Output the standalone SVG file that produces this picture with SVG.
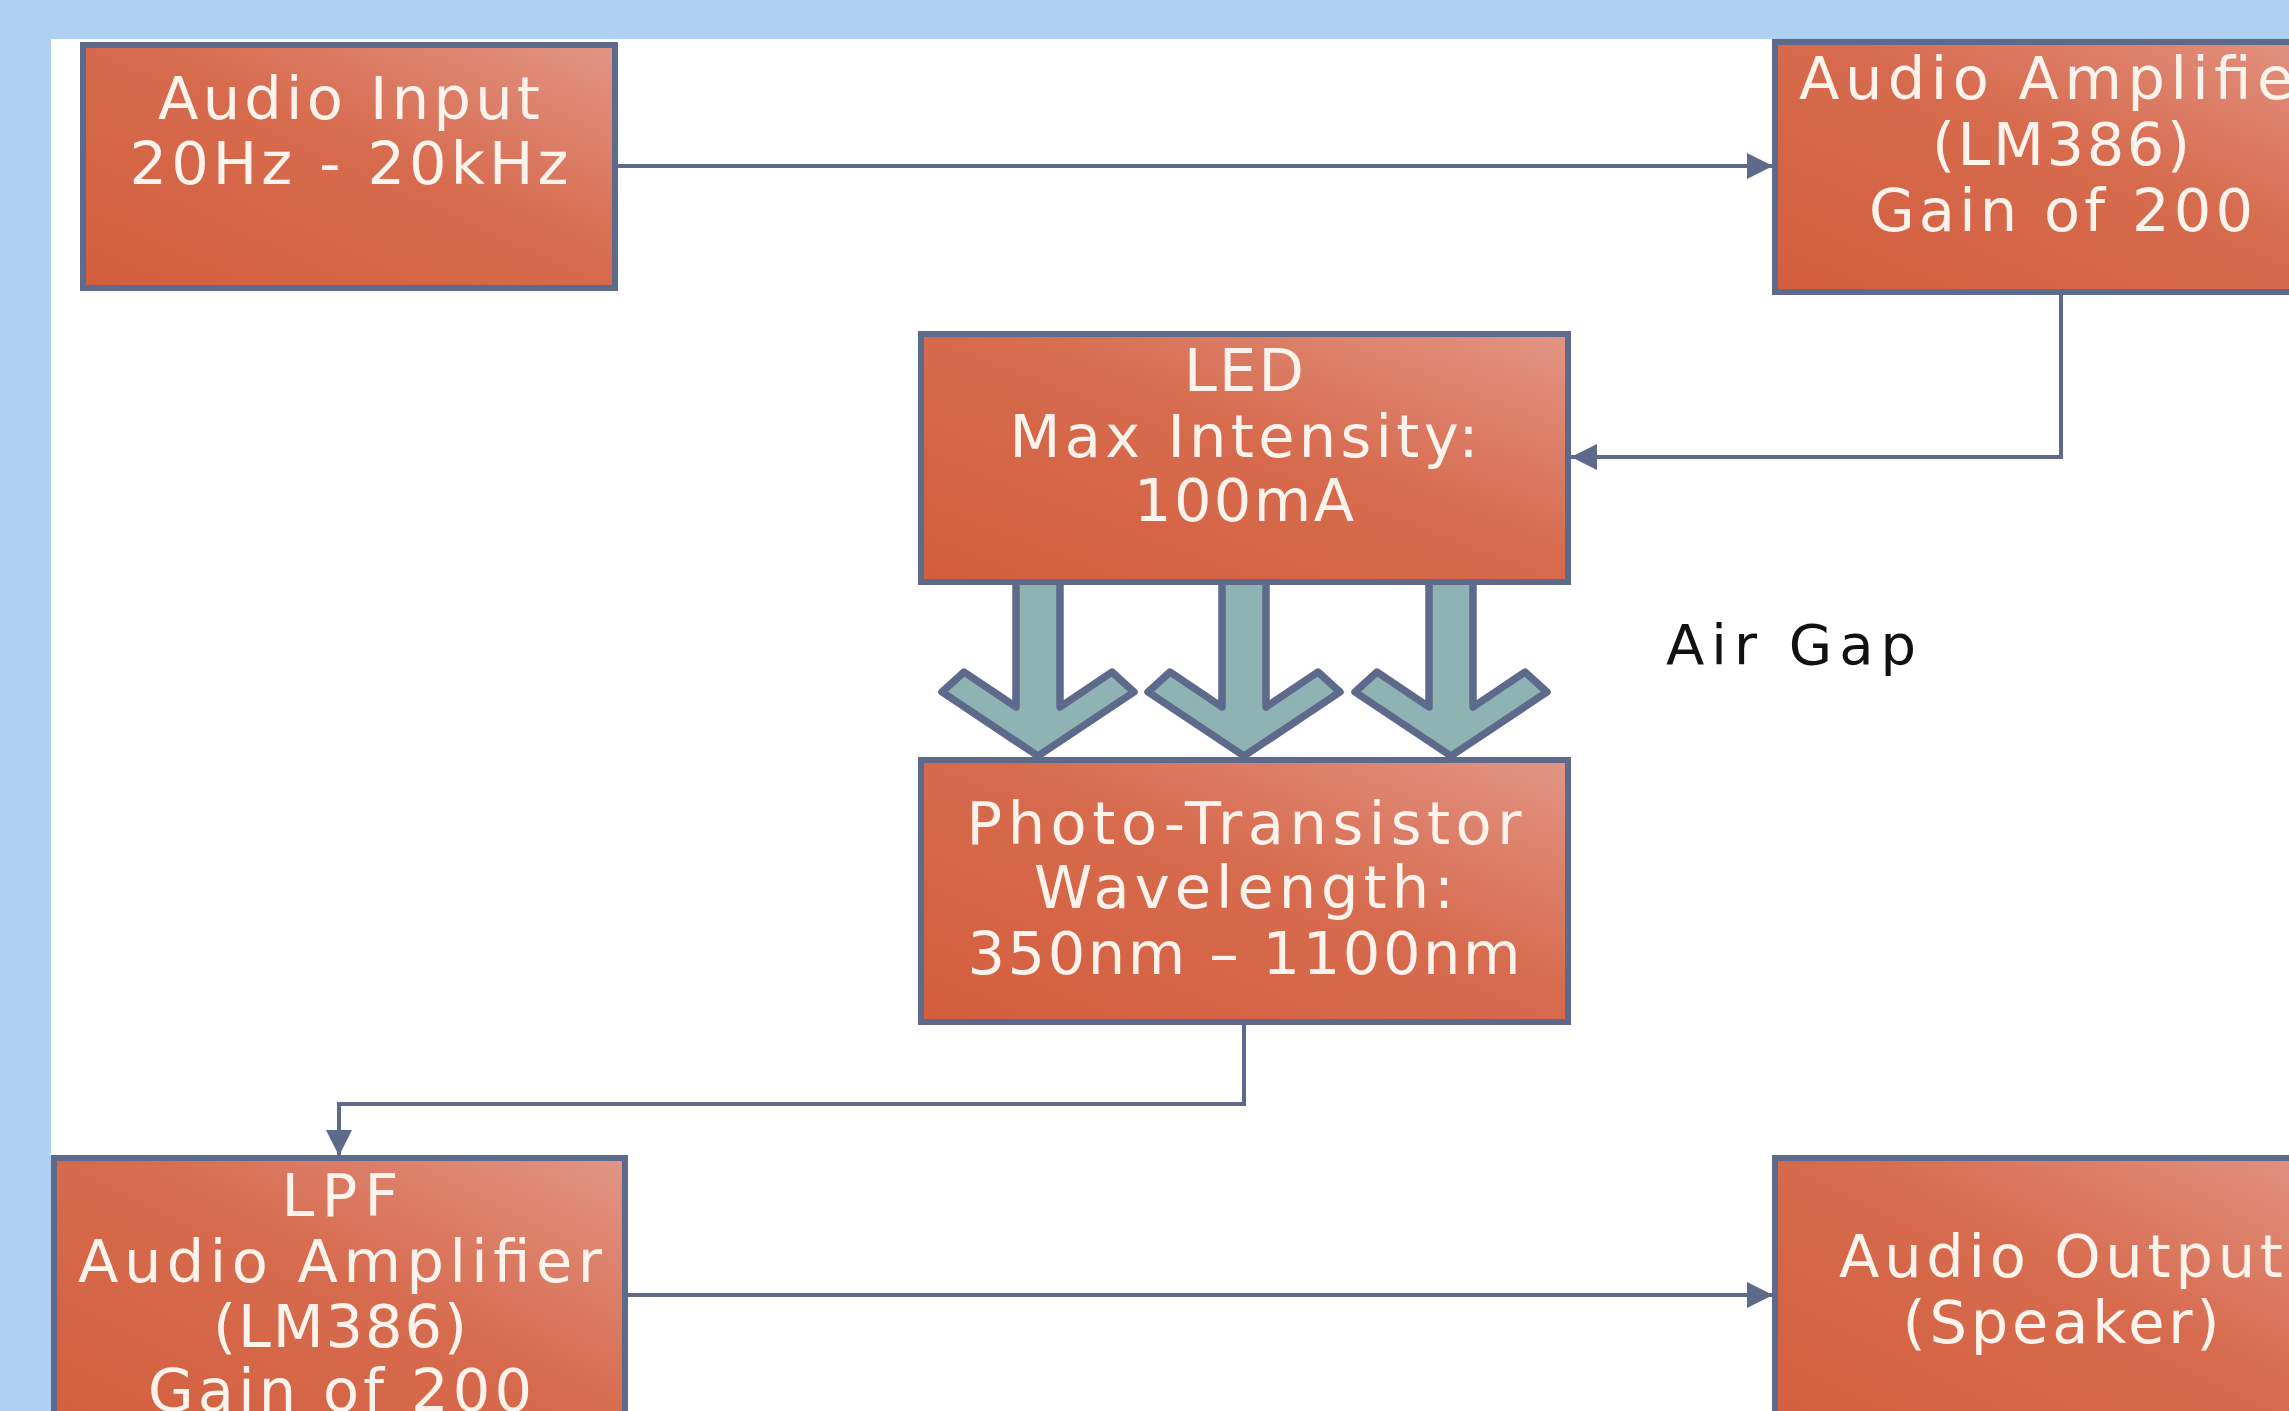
<svg xmlns="http://www.w3.org/2000/svg" width="2289" height="1411" viewBox="0 0 2289 1411">
<defs>
<linearGradient id="boxFill" x1="0" y1="1" x2="1" y2="0">
<stop offset="0" stop-color="#d35e3e"/>
<stop offset="0.55" stop-color="#d76b4e"/>
<stop offset="1" stop-color="#e29585"/>
</linearGradient>
<marker id="arr" markerUnits="userSpaceOnUse" markerWidth="30" markerHeight="28" refX="26" refY="13" orient="auto">
<path d="M0,0 L26,13 L0,26 Z" fill="#5d6a8c"/>
</marker>
</defs>
<style>
.box{fill:url(#boxFill);stroke:#5d6a8c;stroke-width:6}
.lbl{font-family:"DejaVu Sans",sans-serif;font-size:59px;fill:#fcf3ec;text-anchor:middle}
.con{fill:none;stroke:#5d6a8c;stroke-width:4}
.light{fill:#8fb2b2;stroke:#5d6a8c;stroke-width:7.5;stroke-linejoin:round}
.note{font-family:"DejaVu Sans",sans-serif;font-size:56px;fill:#111}
</style>
<rect x="0" y="0" width="2289" height="1411" fill="#afd0f0"/>
<rect x="51" y="39" width="2238" height="1372" fill="#ffffff"/>

<g id="connectors">
<path class="con" d="M615,166 H1773" marker-end="url(#arr)"/>
<path class="con" d="M2061,292 V457 H1571" marker-end="url(#arr)"/>
<path class="con" d="M1244,1022 V1104 H339 V1156" marker-end="url(#arr)"/>
<path class="con" d="M625,1295 H1773" marker-end="url(#arr)"/>
</g>

<g id="light-arrows">
<polygon class="light" points="1016,578 1016,707 964,672 942,692 1038,756 1134,692 1112,672 1060,707 1060,578"/>
<polygon class="light" points="1222,578 1222,707 1170,672 1148,692 1244,756 1340,692 1318,672 1266,707 1266,578"/>
<polygon class="light" points="1429,578 1429,707 1377,672 1355,692 1451,756 1547,692 1525,672 1473,707 1473,578"/>
</g>

<g id="audio-input">
<rect class="box" x="83" y="45" width="532" height="243"/>
<text class="lbl" x="349" y="119" textLength="382" lengthAdjust="spacing">Audio Input</text>
<text class="lbl" x="349" y="184" textLength="439" lengthAdjust="spacing">20Hz - 20kHz</text>
</g>

<g id="audio-amplifier">
<rect class="box" x="1775" y="42" width="572" height="250"/>
<text class="lbl" x="2061" y="99" textLength="524" lengthAdjust="spacing">Audio Amplifier</text>
<text class="lbl" x="2061" y="165" textLength="258" lengthAdjust="spacing">(LM386)</text>
<text class="lbl" x="2061" y="231" textLength="384" lengthAdjust="spacing">Gain of 200</text>
</g>

<g id="led">
<rect class="box" x="921" y="334" width="647" height="248"/>
<text class="lbl" x="1244" y="391" textLength="120" lengthAdjust="spacing">LED</text>
<text class="lbl" x="1244" y="457" textLength="469" lengthAdjust="spacing">Max Intensity:</text>
<text class="lbl" x="1244" y="521" textLength="220" lengthAdjust="spacing">100mA</text>
</g>

<g id="air-gap">
<text class="note" x="1666" y="664" textLength="250" lengthAdjust="spacing">Air Gap</text>
</g>

<g id="photo-transistor">
<rect class="box" x="921" y="760" width="647" height="262"/>
<text class="lbl" x="1244" y="844" textLength="555" lengthAdjust="spacing">Photo-Transistor</text>
<text class="lbl" x="1244" y="908" textLength="420" lengthAdjust="spacing">Wavelength:</text>
<text class="lbl" x="1244" y="974" textLength="553" lengthAdjust="spacing">350nm – 1100nm</text>
</g>

<g id="lpf">
<rect class="box" x="54" y="1158" width="571" height="290"/>
<text class="lbl" x="340" y="1216" textLength="117" lengthAdjust="spacing">LPF</text>
<text class="lbl" x="340" y="1282" textLength="524" lengthAdjust="spacing">Audio Amplifier</text>
<text class="lbl" x="340" y="1347" textLength="254" lengthAdjust="spacing">(LM386)</text>
<text class="lbl" x="340" y="1411" textLength="384" lengthAdjust="spacing">Gain of 200</text>
</g>

<g id="audio-output">
<rect class="box" x="1775" y="1158" width="572" height="290"/>
<text class="lbl" x="2061" y="1277" textLength="444" lengthAdjust="spacing">Audio Output</text>
<text class="lbl" x="2061" y="1343" textLength="317" lengthAdjust="spacing">(Speaker)</text>
</g>
</svg>
